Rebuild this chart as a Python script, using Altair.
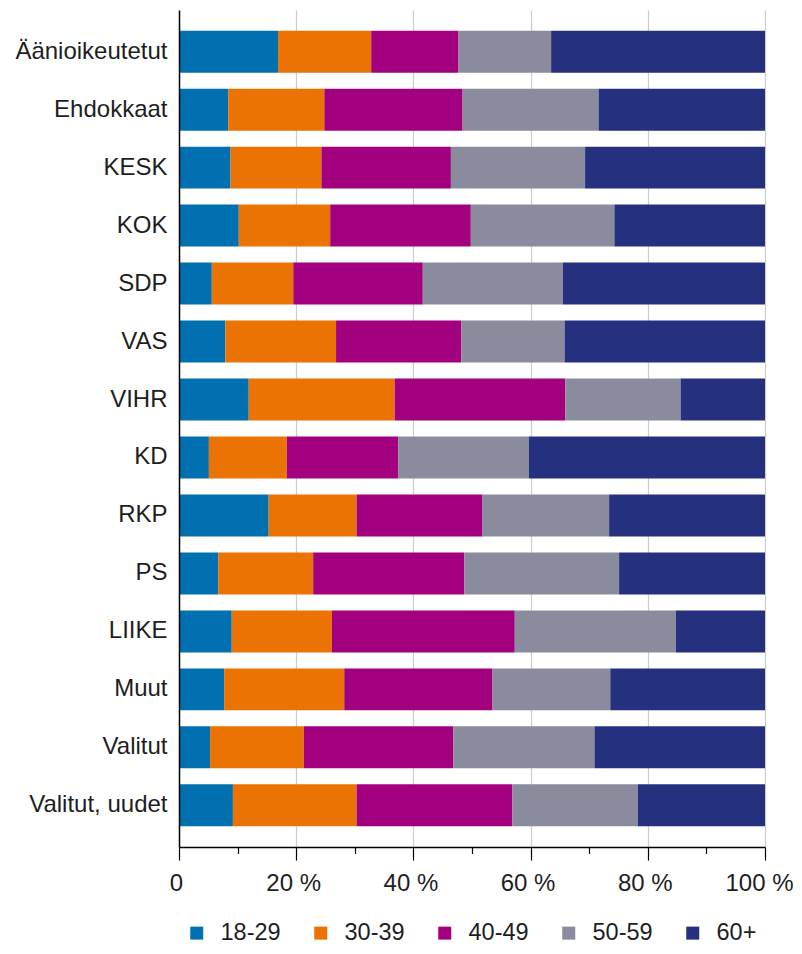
import altair as alt
import pandas as pd

categories = ["Äänioikeutetut", "Ehdokkaat", "KESK", "KOK", "SDP", "VAS", "VIHR",
              "KD", "RKP", "PS", "LIIKE", "Muut", "Valitut", "Valitut, uudet"]
age_groups = ["18-29", "30-39", "40-49", "50-59", "60+"]

share_18_29 = [16.9, 8.4, 8.8, 10.2, 5.6, 7.9, 11.9, 5.1, 15.3, 6.7, 9.0, 7.7, 5.3, 9.2]
share_30_39 = [15.9, 16.4, 15.5, 15.6, 13.9, 18.9, 24.9, 13.3, 15.0, 16.2, 17.1, 20.5, 16.0, 21.1]
share_40_49 = [14.9, 23.6, 22.1, 24.0, 22.1, 21.4, 29.1, 19.0, 21.5, 25.8, 31.2, 25.3, 25.5, 26.6]
share_50_59 = [15.8, 23.2, 22.9, 24.5, 23.9, 17.6, 19.7, 22.3, 21.6, 26.4, 27.5, 20.1, 24.1, 21.4]
share_60_plus = [36.5, 28.4, 30.7, 25.7, 34.5, 34.2, 14.4, 40.3, 26.6, 24.9, 15.2, 26.4, 29.1, 21.7]

colors = ["#0070b0", "#eb7303", "#a2007e", "#8a8b9d", "#25317f"]
x_ticks = [0, 10, 20, 30, 40, 50, 60, 70, 80, 90, 100]

series = [share_18_29, share_30_39, share_40_49, share_50_59, share_60_plus]
rows = []
for gi, (grp, vals) in enumerate(zip(age_groups, series)):
    for cat, v in zip(categories, vals):
        rows.append({"category": cat, "age": grp, "share": v, "order": gi})
df = pd.DataFrame(rows)

FONT = "Liberation Sans"
TXT = "#1e1e1e"

x_axis = alt.Axis(
    title=None,
    values=x_ticks,
    labelExpr="datum.value == 0 ? '0' : (datum.value % 20 == 0 ? datum.value + ' %' : '')",
    labelFont=FONT, labelFontSize=24, labelColor=TXT,
    labelOverlap=False, labelFlush=False, labelBound=False,
    labelPadding=11,
    labelOffset={"condition": {"test": "datum.value == 100", "value": -6}, "value": -3},
    tickSize={"condition": {"test": "datum.value % 20 == 0", "value": 13}, "value": 6.5},
    tickColor="#000000", tickWidth=1.2,
    domainColor="#000000", domainWidth=1.5,
    grid=True, gridColor="#cccccc", gridWidth=1.2,
    gridOpacity={"condition": {"test": "datum.value % 20 == 0", "value": 1}, "value": 0},
)

y_axis = alt.Axis(
    title=None, ticks=False, labelPadding=12,
    labelFont=FONT, labelFontSize=24, labelColor=TXT, labelLimit=400,
    domainColor="#000000", domainWidth=1.5, zindex=1,
)

chart = alt.Chart(df).mark_bar().encode(
    y=alt.Y("category:N", sort=categories,
            scale=alt.Scale(paddingInner=0.276, paddingOuter=0.357), axis=y_axis),
    x=alt.X("share:Q", stack="zero",
            scale=alt.Scale(domain=[0, 100], nice=False), axis=x_axis),
    color=alt.Color("age:N", sort=age_groups,
                    scale=alt.Scale(domain=age_groups, range=colors),
                    legend=alt.Legend(title=None, orient="none", legendX=6, legendY=911,
                                      direction="horizontal", columns=5,
                                      symbolType="square", symbolSize=169, symbolStrokeWidth=0,
                                      labelFont=FONT, labelFontSize=23.5, labelColor=TXT,
                                      labelOffset=12, columnPadding=28)),
    order=alt.Order("order:Q"),
).properties(
    width=586, height=837,
    padding={"left": 171, "top": 2, "right": 29, "bottom": 99},
    autosize=alt.AutoSizeParams(type="none"),
).configure_view(stroke=None)

chart.save("out.html", embed_options={"renderer": "svg", "actions": False})
